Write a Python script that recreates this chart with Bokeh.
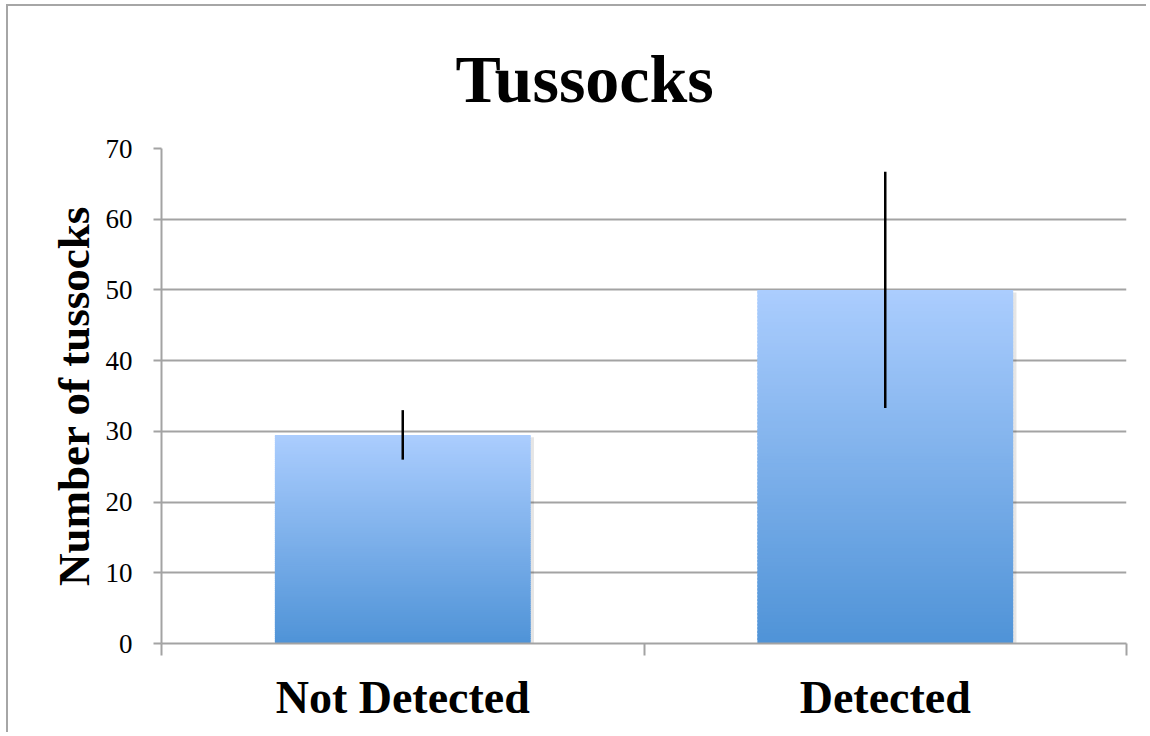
import numpy as np
from bokeh.plotting import figure
from bokeh.models import Range1d, FixedTicker, LinearAxis, Grid
from bokeh.embed import file_html
from bokeh.resources import INLINE

# ---- data ----
categories = ["Not Detected", "Detected"]
means = [29.5, 50.0]
errors = [3.5, 16.7]
y_ticks = [0, 10, 20, 30, 40, 50, 60, 70]
title_text = "Tussocks"
y_label = "Number of tussocks"

# ---- style ----
TOP_COLOR = (0xAB, 0xCD, 0xFE)
BOTTOM_COLOR = (0x4F, 0x93, 0xD7)
GRID_COLOR = "#A3A3A3"
N_SLICES = 100
BAR_W = 0.53

cat_pos = [i + 0.5 for i in range(len(categories))]

p = figure(width=1140, height=728, output_backend="svg", toolbar_location=None,
           x_range=Range1d(0, len(categories)), y_range=Range1d(0, 70),
           x_axis_type=None, y_axis_type=None,
           min_border_left=153, min_border_right=22,
           min_border_top=142, min_border_bottom=91)
p.outline_line_color = None
p.background_fill_color = "white"
p.border_fill_color = "white"
p.styles = {"border-top": "2px solid #A6A6A6", "border-left": "2px solid #A6A6A6",
            "margin-left": "6px", "margin-top": "4px"}

# title
p.title.text = title_text
p.title.align = "left"
p.title.offset = 294
p.title.text_font = "Liberation Serif"
p.title.text_font_size = "68px"
p.title.text_font_style = "bold"
p.title.text_color = "black"
p.title.standoff = 64

# y axis
yax = LinearAxis(ticker=FixedTicker(ticks=y_ticks))
yax.axis_label = y_label
yax.axis_label_text_font = "Liberation Serif"
yax.axis_label_text_font_size = "45px"
yax.axis_label_text_font_style = "bold"
yax.axis_label_text_color = "black"
yax.axis_label_standoff = 4
yax.major_label_text_font = "Liberation Serif"
yax.major_label_text_font_size = "27px"
yax.major_label_text_color = "black"
yax.major_label_standoff = 21
yax.major_tick_out = 8
yax.major_tick_in = 0
yax.minor_tick_out = 0
yax.minor_tick_in = 0
yax.axis_line_color = GRID_COLOR
yax.axis_line_width = 2
yax.major_tick_line_color = GRID_COLOR
yax.major_tick_line_width = 2
p.add_layout(yax, "left")

# horizontal grid lines
grid = Grid(dimension=1, ticker=FixedTicker(ticks=y_ticks),
            grid_line_color=GRID_COLOR, grid_line_width=2)
p.add_layout(grid)

# x axis: boundary ticks
xax_ticks = LinearAxis(ticker=FixedTicker(ticks=list(range(len(categories) + 1))))
xax_ticks.major_label_text_font_size = "0px"
xax_ticks.major_label_standoff = 0
xax_ticks.major_label_overrides = {i: "" for i in range(len(categories) + 1)}
xax_ticks.major_tick_out = 12
xax_ticks.major_tick_in = 0
xax_ticks.minor_tick_out = 0
xax_ticks.minor_tick_in = 0
xax_ticks.axis_line_color = GRID_COLOR
xax_ticks.axis_line_width = 2
xax_ticks.major_tick_line_color = GRID_COLOR
xax_ticks.major_tick_line_width = 2
p.add_layout(xax_ticks, "below")

# x axis: category labels
xax_lab = LinearAxis(ticker=FixedTicker(ticks=cat_pos))
xax_lab.major_label_overrides = {c: name for c, name in zip(cat_pos, categories)}
xax_lab.major_label_text_font = "Liberation Serif"
xax_lab.major_label_text_font_size = "46px"
xax_lab.major_label_text_font_style = "bold"
xax_lab.major_label_text_color = "black"
xax_lab.major_label_standoff = 16
xax_lab.major_tick_out = 0
xax_lab.major_tick_in = 0
xax_lab.minor_tick_out = 0
xax_lab.minor_tick_in = 0
xax_lab.axis_line_color = None
p.add_layout(xax_lab, "below")

# soft shadows behind bars
p.quad(left=[c - BAR_W / 2 + 0.003 for c in cat_pos],
       right=[c + BAR_W / 2 + 0.007 for c in cat_pos],
       bottom=[0 for _ in cat_pos],
       top=[m - 0.35 for m in means],
       fill_color="black", fill_alpha=0.10, line_color=None)

# gradient bars: each bar split into horizontal slices of its own height
lefts, rights, bottoms, tops, colors = [], [], [], [], []
for c, m in zip(cat_pos, means):
    for i in range(N_SLICES):
        t = (i + 0.5) / N_SLICES
        r = int(round(BOTTOM_COLOR[0] + (TOP_COLOR[0] - BOTTOM_COLOR[0]) * t))
        g = int(round(BOTTOM_COLOR[1] + (TOP_COLOR[1] - BOTTOM_COLOR[1]) * t))
        b = int(round(BOTTOM_COLOR[2] + (TOP_COLOR[2] - BOTTOM_COLOR[2]) * t))
        lefts.append(c - BAR_W / 2)
        rights.append(c + BAR_W / 2)
        bottoms.append(m * i / N_SLICES)
        tops.append(m * min(i + 1.6, N_SLICES) / N_SLICES)
        colors.append("#%02x%02x%02x" % (r, g, b))
p.quad(left=lefts, right=rights, bottom=bottoms, top=tops,
       fill_color=colors, line_color=None)

# error bars
p.segment(x0=cat_pos, x1=cat_pos,
          y0=[m - e for m, e in zip(means, errors)],
          y1=[m + e for m, e in zip(means, errors)],
          line_color="black", line_width=2.5)

open("out.html", "w").write(file_html(p, INLINE))
